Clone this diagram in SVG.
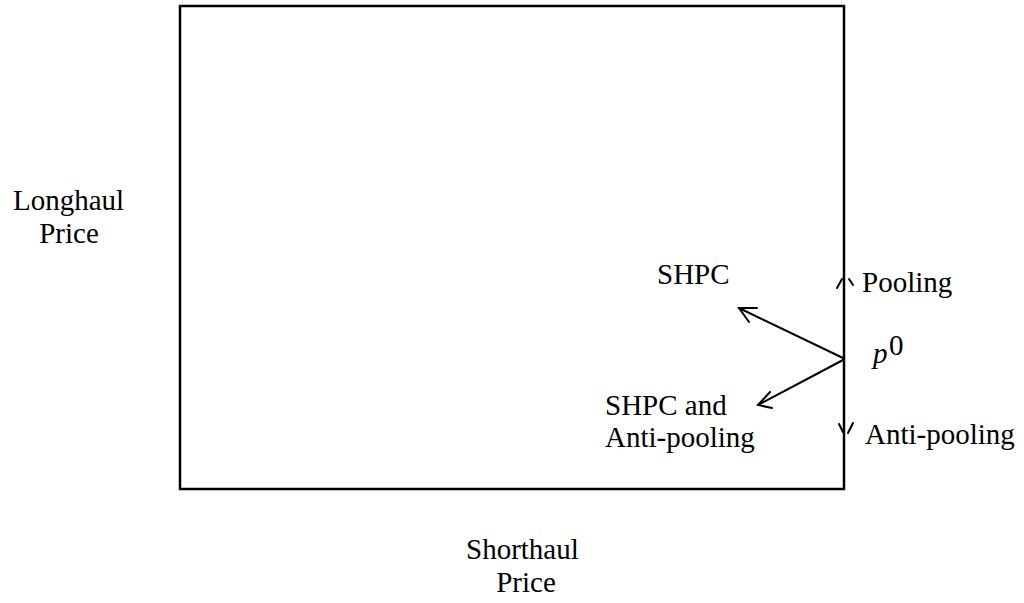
<svg xmlns="http://www.w3.org/2000/svg" width="1024" height="603" viewBox="0 0 1024 603">
<style>
text{font-family:"Liberation Serif","Times New Roman",serif;font-size:29px;fill:#000}
.ln{stroke:#000;stroke-width:2;fill:none;stroke-linecap:round}
.frame{stroke:#000;stroke-width:2.5;fill:none}
</style>
<rect width="1024" height="603" fill="#fff"/>
<g id="frame">
<rect class="frame" x="180" y="6" width="664" height="483"/>
</g>
<g id="axis-labels">
<text x="13" y="210">Longhaul</text>
<text x="69" y="243" text-anchor="middle">Price</text>
<text x="466" y="559">Shorthaul</text>
<text x="526" y="592" text-anchor="middle">Price</text>
</g>
<g id="node-shpc"><text x="657" y="284">SHPC</text></g>
<g id="node-shpc-anti"><text x="605" y="415">SHPC and</text><text x="605" y="447">Anti-pooling</text></g>
<g id="node-pooling"><text x="862" y="292">Pooling</text></g>
<g id="node-antipooling"><text x="865" y="444">Anti-pooling</text></g>
<g id="node-p0"><text x="873" y="363" font-style="italic">p</text><text x="889" y="355" font-size="18">0</text></g>
<g id="connectors">
<line class="ln" x1="843" y1="358" x2="739" y2="308"/>
<polyline class="ln" points="757,308 739,308 749,322"/>
<line class="ln" x1="843" y1="360" x2="758" y2="405"/>
<polyline class="ln" points="770,392 758,405 772,408"/>
<line class="ln" x1="837" y1="288" x2="842" y2="279"/>
<line class="ln" x1="849" y1="279" x2="853" y2="285"/>
<line class="ln" x1="839" y1="424" x2="843" y2="432"/>
<line class="ln" x1="853" y1="423" x2="848" y2="433"/>
</g>
</svg>
